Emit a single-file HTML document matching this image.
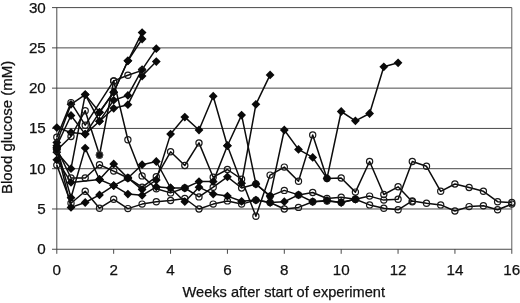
<!DOCTYPE html>
<html><head><meta charset="utf-8"><title>Blood glucose chart</title>
<style>html,body{margin:0;padding:0;background:#fff;overflow:hidden}svg{display:block;will-change:transform}</style>
</head><body>
<svg width="520" height="303" viewBox="0 0 520 303">
<rect width="520" height="303" fill="#fff"/>
<line x1="52.0" y1="249.25" x2="511.8" y2="249.25" stroke="#404040" stroke-width="0.95"/>
<line x1="52.0" y1="208.97" x2="511.8" y2="208.97" stroke="#404040" stroke-width="0.95"/>
<line x1="52.0" y1="168.70" x2="511.8" y2="168.70" stroke="#404040" stroke-width="0.95"/>
<line x1="52.0" y1="128.43" x2="511.8" y2="128.43" stroke="#404040" stroke-width="0.95"/>
<line x1="52.0" y1="88.15" x2="511.8" y2="88.15" stroke="#404040" stroke-width="0.95"/>
<line x1="52.0" y1="47.88" x2="511.8" y2="47.88" stroke="#404040" stroke-width="0.95"/>
<line x1="52.0" y1="7.60" x2="511.8" y2="7.60" stroke="#404040" stroke-width="0.95"/>
<line x1="56.8" y1="7.6" x2="56.8" y2="249.2" stroke="#404040" stroke-width="0.95"/>
<line x1="511.8" y1="7.6" x2="511.8" y2="249.2" stroke="#5a5a5a" stroke-width="1"/>
<line x1="56.80" y1="249.2" x2="56.80" y2="253.8" stroke="#404040" stroke-width="0.95"/>
<line x1="113.67" y1="249.2" x2="113.67" y2="253.8" stroke="#404040" stroke-width="0.95"/>
<line x1="170.55" y1="249.2" x2="170.55" y2="253.8" stroke="#404040" stroke-width="0.95"/>
<line x1="227.43" y1="249.2" x2="227.43" y2="253.8" stroke="#404040" stroke-width="0.95"/>
<line x1="284.30" y1="249.2" x2="284.30" y2="253.8" stroke="#404040" stroke-width="0.95"/>
<line x1="341.18" y1="249.2" x2="341.18" y2="253.8" stroke="#404040" stroke-width="0.95"/>
<line x1="398.05" y1="249.2" x2="398.05" y2="253.8" stroke="#404040" stroke-width="0.95"/>
<line x1="454.93" y1="249.2" x2="454.93" y2="253.8" stroke="#404040" stroke-width="0.95"/>
<line x1="511.80" y1="249.2" x2="511.80" y2="253.8" stroke="#404040" stroke-width="0.95"/>
<polyline points="56.8,152.2 71.0,168.7 85.2,94.6 99.5,112.3 113.7,92.2 127.9,60.8 142.1,32.6" fill="none" stroke="#0c0c0c" stroke-width="1.5" stroke-linejoin="round"/>
<polyline points="56.8,145.7 71.0,115.5 85.2,134.1 99.5,112.3 113.7,92.2 127.9,60.8 142.1,39.0" fill="none" stroke="#0c0c0c" stroke-width="1.5" stroke-linejoin="round"/>
<polyline points="56.8,142.5 71.0,104.3 85.2,94.6 99.5,121.2 113.7,100.2 127.9,95.4 142.1,69.6 156.3,48.7" fill="none" stroke="#0c0c0c" stroke-width="1.5" stroke-linejoin="round"/>
<polyline points="56.8,127.6 71.0,132.5 85.2,134.1 99.5,121.2 113.7,108.3 127.9,104.7 142.1,76.1 156.3,61.6" fill="none" stroke="#0c0c0c" stroke-width="1.5" stroke-linejoin="round"/>
<polyline points="56.8,150.2 71.0,136.5 85.2,110.7 99.5,155.0 113.7,80.9 127.9,75.3 142.1,70.4" fill="none" stroke="#0c0c0c" stroke-width="1.5" stroke-linejoin="round"/>
<polyline points="56.8,137.3 71.0,102.6 85.2,125.2 113.7,80.9 127.9,139.7 142.1,175.9 156.3,188.8 170.6,192.9 184.8,188.0 199.0,196.9 213.2,187.2 227.4,176.8 241.6,188.0 255.9,184.0 270.1,196.1 284.3,190.4 298.5,194.9 312.7,192.5 327.0,198.5 341.2,197.3 355.4,199.3 369.6,196.1 383.8,200.1 398.1,199.3 412.3,161.5 426.5,166.3 440.7,191.3 454.9,184.0 469.1,187.5 483.4,191.3 497.6,201.7 511.8,202.5" fill="none" stroke="#0c0c0c" stroke-width="1.5" stroke-linejoin="round"/>
<polyline points="56.8,165.1 71.0,203.3 85.2,191.3 99.5,208.2 113.7,199.3 127.9,208.6 142.1,204.1 156.3,201.7 170.6,200.5 184.8,198.5 199.0,209.0 213.2,204.1 227.4,200.9 241.6,204.1 255.9,200.1 270.1,202.5 284.3,209.0 298.5,207.4 312.7,201.7 327.0,200.9 341.2,202.5 355.4,199.3 369.6,204.9 383.8,208.2 398.1,209.8 412.3,200.9 426.5,203.3 440.7,204.9 454.9,211.0 469.1,206.6 483.4,205.8 497.6,209.8 511.8,204.1" fill="none" stroke="#0c0c0c" stroke-width="1.5" stroke-linejoin="round"/>
<polyline points="56.8,148.6 71.0,178.0 85.2,178.0 99.5,164.7 113.7,171.1 127.9,178.0 142.1,187.2 156.3,176.8 170.6,151.8 184.8,165.5 199.0,142.9 213.2,177.2 227.4,169.5 241.6,179.2 255.9,216.2 270.1,175.1 284.3,167.1 298.5,181.2 312.7,134.9 327.0,178.4 341.2,178.0 355.4,192.1 369.6,161.5 383.8,194.5 398.1,186.8 412.3,201.7" fill="none" stroke="#0c0c0c" stroke-width="1.5" stroke-linejoin="round"/>
<polyline points="56.8,149.0 71.0,207.4 85.2,202.5 99.5,194.9 113.7,185.6 127.9,194.1 142.1,195.3 156.3,186.8 170.6,188.0 184.8,201.7 199.0,187.2 213.2,194.1 227.4,196.1 241.6,201.3 255.9,200.1 270.1,202.5 284.3,201.7 298.5,194.9 312.7,201.7 327.0,200.5 341.2,202.5 355.4,199.3" fill="none" stroke="#0c0c0c" stroke-width="1.5" stroke-linejoin="round"/>
<polyline points="56.8,147.4 71.0,197.7 85.2,148.1 99.5,179.5 113.7,163.9 127.9,178.0 142.1,189.6 156.3,180.0 170.6,134.1 184.8,117.1 199.0,130.0 213.2,96.2 227.4,145.7 241.6,115.1 255.9,184.0 270.1,196.1 284.3,130.0 298.5,149.4 312.7,157.4 327.0,178.4 341.2,111.5 355.4,120.8 369.6,113.5 383.8,66.8 398.1,62.8" fill="none" stroke="#0c0c0c" stroke-width="1.5" stroke-linejoin="round"/>
<polyline points="56.8,159.8 71.0,182.4 99.5,179.5 113.7,185.6 127.9,178.0 142.1,164.7 156.3,161.5 170.6,188.0 184.8,188.0 199.0,181.6 213.2,181.6 227.4,145.7 241.6,183.2 255.9,104.3 270.1,74.9" fill="none" stroke="#0c0c0c" stroke-width="1.5" stroke-linejoin="round"/>
<path d="M56.8 147.8L61.2 152.2L56.8 156.6L52.4 152.2Z" fill="#0a0a0a"/>
<path d="M71.0 164.3L75.4 168.7L71.0 173.1L66.6 168.7Z" fill="#0a0a0a"/>
<path d="M85.2 90.2L89.6 94.6L85.2 99.0L80.8 94.6Z" fill="#0a0a0a"/>
<path d="M99.5 107.9L103.9 112.3L99.5 116.7L95.1 112.3Z" fill="#0a0a0a"/>
<path d="M113.7 87.8L118.1 92.2L113.7 96.6L109.3 92.2Z" fill="#0a0a0a"/>
<path d="M127.9 56.4L132.3 60.8L127.9 65.2L123.5 60.8Z" fill="#0a0a0a"/>
<path d="M142.1 28.2L146.5 32.6L142.1 37.0L137.7 32.6Z" fill="#0a0a0a"/>
<path d="M56.8 141.3L61.2 145.7L56.8 150.1L52.4 145.7Z" fill="#0a0a0a"/>
<path d="M71.0 111.1L75.4 115.5L71.0 119.9L66.6 115.5Z" fill="#0a0a0a"/>
<path d="M85.2 129.7L89.6 134.1L85.2 138.5L80.8 134.1Z" fill="#0a0a0a"/>
<path d="M99.5 107.9L103.9 112.3L99.5 116.7L95.1 112.3Z" fill="#0a0a0a"/>
<path d="M113.7 87.8L118.1 92.2L113.7 96.6L109.3 92.2Z" fill="#0a0a0a"/>
<path d="M127.9 56.4L132.3 60.8L127.9 65.2L123.5 60.8Z" fill="#0a0a0a"/>
<path d="M142.1 34.6L146.5 39.0L142.1 43.4L137.7 39.0Z" fill="#0a0a0a"/>
<path d="M56.8 138.1L61.2 142.5L56.8 146.9L52.4 142.5Z" fill="#0a0a0a"/>
<path d="M71.0 99.9L75.4 104.3L71.0 108.7L66.6 104.3Z" fill="#0a0a0a"/>
<path d="M85.2 90.2L89.6 94.6L85.2 99.0L80.8 94.6Z" fill="#0a0a0a"/>
<path d="M99.5 116.8L103.9 121.2L99.5 125.6L95.1 121.2Z" fill="#0a0a0a"/>
<path d="M113.7 95.8L118.1 100.2L113.7 104.6L109.3 100.2Z" fill="#0a0a0a"/>
<path d="M127.9 91.0L132.3 95.4L127.9 99.8L123.5 95.4Z" fill="#0a0a0a"/>
<path d="M142.1 65.2L146.5 69.6L142.1 74.0L137.7 69.6Z" fill="#0a0a0a"/>
<path d="M156.3 44.3L160.7 48.7L156.3 53.1L151.9 48.7Z" fill="#0a0a0a"/>
<path d="M56.8 123.2L61.2 127.6L56.8 132.0L52.4 127.6Z" fill="#0a0a0a"/>
<path d="M71.0 128.1L75.4 132.5L71.0 136.9L66.6 132.5Z" fill="#0a0a0a"/>
<path d="M85.2 129.7L89.6 134.1L85.2 138.5L80.8 134.1Z" fill="#0a0a0a"/>
<path d="M99.5 116.8L103.9 121.2L99.5 125.6L95.1 121.2Z" fill="#0a0a0a"/>
<path d="M113.7 103.9L118.1 108.3L113.7 112.7L109.3 108.3Z" fill="#0a0a0a"/>
<path d="M127.9 100.3L132.3 104.7L127.9 109.1L123.5 104.7Z" fill="#0a0a0a"/>
<path d="M142.1 71.7L146.5 76.1L142.1 80.5L137.7 76.1Z" fill="#0a0a0a"/>
<path d="M156.3 57.2L160.7 61.6L156.3 66.0L151.9 61.6Z" fill="#0a0a0a"/>
<circle cx="56.8" cy="150.2" r="3.1" fill="none" stroke="#1a1a1a" stroke-width="1.2"/>
<circle cx="71.0" cy="136.5" r="3.1" fill="none" stroke="#1a1a1a" stroke-width="1.2"/>
<circle cx="85.2" cy="110.7" r="3.1" fill="none" stroke="#1a1a1a" stroke-width="1.2"/>
<circle cx="99.5" cy="155.0" r="3.1" fill="none" stroke="#1a1a1a" stroke-width="1.2"/>
<circle cx="113.7" cy="80.9" r="3.1" fill="none" stroke="#1a1a1a" stroke-width="1.2"/>
<circle cx="127.9" cy="75.3" r="3.1" fill="none" stroke="#1a1a1a" stroke-width="1.2"/>
<circle cx="142.1" cy="70.4" r="3.1" fill="none" stroke="#1a1a1a" stroke-width="1.2"/>
<circle cx="56.8" cy="137.3" r="3.1" fill="none" stroke="#1a1a1a" stroke-width="1.2"/>
<circle cx="71.0" cy="102.6" r="3.1" fill="none" stroke="#1a1a1a" stroke-width="1.2"/>
<circle cx="85.2" cy="125.2" r="3.1" fill="none" stroke="#1a1a1a" stroke-width="1.2"/>
<circle cx="113.7" cy="80.9" r="3.1" fill="none" stroke="#1a1a1a" stroke-width="1.2"/>
<circle cx="127.9" cy="139.7" r="3.1" fill="none" stroke="#1a1a1a" stroke-width="1.2"/>
<circle cx="142.1" cy="175.9" r="3.1" fill="none" stroke="#1a1a1a" stroke-width="1.2"/>
<circle cx="156.3" cy="188.8" r="3.1" fill="none" stroke="#1a1a1a" stroke-width="1.2"/>
<circle cx="170.6" cy="192.9" r="3.1" fill="none" stroke="#1a1a1a" stroke-width="1.2"/>
<circle cx="184.8" cy="188.0" r="3.1" fill="none" stroke="#1a1a1a" stroke-width="1.2"/>
<circle cx="199.0" cy="196.9" r="3.1" fill="none" stroke="#1a1a1a" stroke-width="1.2"/>
<circle cx="213.2" cy="187.2" r="3.1" fill="none" stroke="#1a1a1a" stroke-width="1.2"/>
<path d="M227.4 172.4L231.8 176.8L227.4 181.2L223.0 176.8Z" fill="#0a0a0a"/>
<circle cx="241.6" cy="188.0" r="3.1" fill="none" stroke="#1a1a1a" stroke-width="1.2"/>
<circle cx="255.9" cy="184.0" r="3.1" fill="none" stroke="#1a1a1a" stroke-width="1.2"/>
<circle cx="270.1" cy="196.1" r="3.1" fill="none" stroke="#1a1a1a" stroke-width="1.2"/>
<circle cx="284.3" cy="190.4" r="3.1" fill="none" stroke="#1a1a1a" stroke-width="1.2"/>
<circle cx="298.5" cy="194.9" r="3.1" fill="none" stroke="#1a1a1a" stroke-width="1.2"/>
<circle cx="312.7" cy="192.5" r="3.1" fill="none" stroke="#1a1a1a" stroke-width="1.2"/>
<circle cx="327.0" cy="198.5" r="3.1" fill="none" stroke="#1a1a1a" stroke-width="1.2"/>
<circle cx="341.2" cy="197.3" r="3.1" fill="none" stroke="#1a1a1a" stroke-width="1.2"/>
<circle cx="355.4" cy="199.3" r="3.1" fill="none" stroke="#1a1a1a" stroke-width="1.2"/>
<circle cx="369.6" cy="196.1" r="3.1" fill="none" stroke="#1a1a1a" stroke-width="1.2"/>
<circle cx="383.8" cy="200.1" r="3.1" fill="none" stroke="#1a1a1a" stroke-width="1.2"/>
<circle cx="398.1" cy="199.3" r="3.1" fill="none" stroke="#1a1a1a" stroke-width="1.2"/>
<circle cx="412.3" cy="161.5" r="3.1" fill="none" stroke="#1a1a1a" stroke-width="1.2"/>
<circle cx="426.5" cy="166.3" r="3.1" fill="none" stroke="#1a1a1a" stroke-width="1.2"/>
<circle cx="440.7" cy="191.3" r="3.1" fill="none" stroke="#1a1a1a" stroke-width="1.2"/>
<circle cx="454.9" cy="184.0" r="3.1" fill="none" stroke="#1a1a1a" stroke-width="1.2"/>
<circle cx="469.1" cy="187.5" r="3.1" fill="none" stroke="#1a1a1a" stroke-width="1.2"/>
<circle cx="483.4" cy="191.3" r="3.1" fill="none" stroke="#1a1a1a" stroke-width="1.2"/>
<circle cx="497.6" cy="201.7" r="3.1" fill="none" stroke="#1a1a1a" stroke-width="1.2"/>
<circle cx="511.8" cy="202.5" r="3.1" fill="none" stroke="#1a1a1a" stroke-width="1.2"/>
<circle cx="56.8" cy="165.1" r="3.1" fill="none" stroke="#1a1a1a" stroke-width="1.2"/>
<circle cx="71.0" cy="203.3" r="3.1" fill="none" stroke="#1a1a1a" stroke-width="1.2"/>
<circle cx="85.2" cy="191.3" r="3.1" fill="none" stroke="#1a1a1a" stroke-width="1.2"/>
<circle cx="99.5" cy="208.2" r="3.1" fill="none" stroke="#1a1a1a" stroke-width="1.2"/>
<circle cx="113.7" cy="199.3" r="3.1" fill="none" stroke="#1a1a1a" stroke-width="1.2"/>
<circle cx="127.9" cy="208.6" r="3.1" fill="none" stroke="#1a1a1a" stroke-width="1.2"/>
<circle cx="142.1" cy="204.1" r="3.1" fill="none" stroke="#1a1a1a" stroke-width="1.2"/>
<circle cx="156.3" cy="201.7" r="3.1" fill="none" stroke="#1a1a1a" stroke-width="1.2"/>
<circle cx="170.6" cy="200.5" r="3.1" fill="none" stroke="#1a1a1a" stroke-width="1.2"/>
<circle cx="184.8" cy="198.5" r="3.1" fill="none" stroke="#1a1a1a" stroke-width="1.2"/>
<circle cx="199.0" cy="209.0" r="3.1" fill="none" stroke="#1a1a1a" stroke-width="1.2"/>
<circle cx="213.2" cy="204.1" r="3.1" fill="none" stroke="#1a1a1a" stroke-width="1.2"/>
<circle cx="227.4" cy="200.9" r="3.1" fill="none" stroke="#1a1a1a" stroke-width="1.2"/>
<circle cx="241.6" cy="204.1" r="3.1" fill="none" stroke="#1a1a1a" stroke-width="1.2"/>
<circle cx="255.9" cy="200.1" r="3.1" fill="none" stroke="#1a1a1a" stroke-width="1.2"/>
<circle cx="270.1" cy="202.5" r="3.1" fill="none" stroke="#1a1a1a" stroke-width="1.2"/>
<circle cx="284.3" cy="209.0" r="3.1" fill="none" stroke="#1a1a1a" stroke-width="1.2"/>
<circle cx="298.5" cy="207.4" r="3.1" fill="none" stroke="#1a1a1a" stroke-width="1.2"/>
<circle cx="312.7" cy="201.7" r="3.1" fill="none" stroke="#1a1a1a" stroke-width="1.2"/>
<circle cx="327.0" cy="200.9" r="3.1" fill="none" stroke="#1a1a1a" stroke-width="1.2"/>
<circle cx="341.2" cy="202.5" r="3.1" fill="none" stroke="#1a1a1a" stroke-width="1.2"/>
<circle cx="355.4" cy="199.3" r="3.1" fill="none" stroke="#1a1a1a" stroke-width="1.2"/>
<circle cx="369.6" cy="204.9" r="3.1" fill="none" stroke="#1a1a1a" stroke-width="1.2"/>
<circle cx="383.8" cy="208.2" r="3.1" fill="none" stroke="#1a1a1a" stroke-width="1.2"/>
<circle cx="398.1" cy="209.8" r="3.1" fill="none" stroke="#1a1a1a" stroke-width="1.2"/>
<circle cx="412.3" cy="200.9" r="3.1" fill="none" stroke="#1a1a1a" stroke-width="1.2"/>
<circle cx="426.5" cy="203.3" r="3.1" fill="none" stroke="#1a1a1a" stroke-width="1.2"/>
<circle cx="440.7" cy="204.9" r="3.1" fill="none" stroke="#1a1a1a" stroke-width="1.2"/>
<circle cx="454.9" cy="211.0" r="3.1" fill="none" stroke="#1a1a1a" stroke-width="1.2"/>
<circle cx="469.1" cy="206.6" r="3.1" fill="none" stroke="#1a1a1a" stroke-width="1.2"/>
<circle cx="483.4" cy="205.8" r="3.1" fill="none" stroke="#1a1a1a" stroke-width="1.2"/>
<circle cx="497.6" cy="209.8" r="3.1" fill="none" stroke="#1a1a1a" stroke-width="1.2"/>
<circle cx="511.8" cy="204.1" r="3.1" fill="none" stroke="#1a1a1a" stroke-width="1.2"/>
<circle cx="56.8" cy="148.6" r="3.1" fill="none" stroke="#1a1a1a" stroke-width="1.2"/>
<circle cx="71.0" cy="178.0" r="3.1" fill="none" stroke="#1a1a1a" stroke-width="1.2"/>
<circle cx="85.2" cy="178.0" r="3.1" fill="none" stroke="#1a1a1a" stroke-width="1.2"/>
<circle cx="99.5" cy="164.7" r="3.1" fill="none" stroke="#1a1a1a" stroke-width="1.2"/>
<circle cx="113.7" cy="171.1" r="3.1" fill="none" stroke="#1a1a1a" stroke-width="1.2"/>
<circle cx="127.9" cy="178.0" r="3.1" fill="none" stroke="#1a1a1a" stroke-width="1.2"/>
<circle cx="142.1" cy="187.2" r="3.1" fill="none" stroke="#1a1a1a" stroke-width="1.2"/>
<circle cx="156.3" cy="176.8" r="3.1" fill="none" stroke="#1a1a1a" stroke-width="1.2"/>
<circle cx="170.6" cy="151.8" r="3.1" fill="none" stroke="#1a1a1a" stroke-width="1.2"/>
<circle cx="184.8" cy="165.5" r="3.1" fill="none" stroke="#1a1a1a" stroke-width="1.2"/>
<circle cx="199.0" cy="142.9" r="3.1" fill="none" stroke="#1a1a1a" stroke-width="1.2"/>
<circle cx="213.2" cy="177.2" r="3.1" fill="none" stroke="#1a1a1a" stroke-width="1.2"/>
<circle cx="227.4" cy="169.5" r="3.1" fill="none" stroke="#1a1a1a" stroke-width="1.2"/>
<circle cx="241.6" cy="179.2" r="3.1" fill="none" stroke="#1a1a1a" stroke-width="1.2"/>
<circle cx="255.9" cy="216.2" r="3.1" fill="none" stroke="#1a1a1a" stroke-width="1.2"/>
<circle cx="270.1" cy="175.1" r="3.1" fill="none" stroke="#1a1a1a" stroke-width="1.2"/>
<circle cx="284.3" cy="167.1" r="3.1" fill="none" stroke="#1a1a1a" stroke-width="1.2"/>
<circle cx="298.5" cy="181.2" r="3.1" fill="none" stroke="#1a1a1a" stroke-width="1.2"/>
<circle cx="312.7" cy="134.9" r="3.1" fill="none" stroke="#1a1a1a" stroke-width="1.2"/>
<circle cx="327.0" cy="178.4" r="3.1" fill="none" stroke="#1a1a1a" stroke-width="1.2"/>
<circle cx="341.2" cy="178.0" r="3.1" fill="none" stroke="#1a1a1a" stroke-width="1.2"/>
<circle cx="355.4" cy="192.1" r="3.1" fill="none" stroke="#1a1a1a" stroke-width="1.2"/>
<circle cx="369.6" cy="161.5" r="3.1" fill="none" stroke="#1a1a1a" stroke-width="1.2"/>
<circle cx="383.8" cy="194.5" r="3.1" fill="none" stroke="#1a1a1a" stroke-width="1.2"/>
<circle cx="398.1" cy="186.8" r="3.1" fill="none" stroke="#1a1a1a" stroke-width="1.2"/>
<circle cx="412.3" cy="201.7" r="3.1" fill="none" stroke="#1a1a1a" stroke-width="1.2"/>
<path d="M56.8 144.6L61.2 149.0L56.8 153.4L52.4 149.0Z" fill="#0a0a0a"/>
<path d="M71.0 203.0L75.4 207.4L71.0 211.8L66.6 207.4Z" fill="#0a0a0a"/>
<path d="M85.2 198.1L89.6 202.5L85.2 206.9L80.8 202.5Z" fill="#0a0a0a"/>
<path d="M99.5 190.5L103.9 194.9L99.5 199.3L95.1 194.9Z" fill="#0a0a0a"/>
<path d="M113.7 181.2L118.1 185.6L113.7 190.0L109.3 185.6Z" fill="#0a0a0a"/>
<path d="M127.9 189.7L132.3 194.1L127.9 198.5L123.5 194.1Z" fill="#0a0a0a"/>
<path d="M142.1 190.9L146.5 195.3L142.1 199.7L137.7 195.3Z" fill="#0a0a0a"/>
<path d="M156.3 182.4L160.7 186.8L156.3 191.2L151.9 186.8Z" fill="#0a0a0a"/>
<path d="M170.6 183.6L175.0 188.0L170.6 192.4L166.2 188.0Z" fill="#0a0a0a"/>
<path d="M184.8 197.3L189.2 201.7L184.8 206.1L180.4 201.7Z" fill="#0a0a0a"/>
<path d="M199.0 182.8L203.4 187.2L199.0 191.6L194.6 187.2Z" fill="#0a0a0a"/>
<path d="M213.2 189.7L217.6 194.1L213.2 198.5L208.8 194.1Z" fill="#0a0a0a"/>
<path d="M227.4 191.7L231.8 196.1L227.4 200.5L223.0 196.1Z" fill="#0a0a0a"/>
<path d="M241.6 196.9L246.0 201.3L241.6 205.7L237.2 201.3Z" fill="#0a0a0a"/>
<path d="M255.9 195.7L260.3 200.1L255.9 204.5L251.5 200.1Z" fill="#0a0a0a"/>
<path d="M270.1 198.1L274.5 202.5L270.1 206.9L265.7 202.5Z" fill="#0a0a0a"/>
<path d="M284.3 197.3L288.7 201.7L284.3 206.1L279.9 201.7Z" fill="#0a0a0a"/>
<path d="M298.5 190.5L302.9 194.9L298.5 199.3L294.1 194.9Z" fill="#0a0a0a"/>
<path d="M312.7 197.3L317.1 201.7L312.7 206.1L308.3 201.7Z" fill="#0a0a0a"/>
<path d="M327.0 196.1L331.4 200.5L327.0 204.9L322.6 200.5Z" fill="#0a0a0a"/>
<path d="M341.2 198.1L345.6 202.5L341.2 206.9L336.8 202.5Z" fill="#0a0a0a"/>
<path d="M355.4 194.9L359.8 199.3L355.4 203.7L351.0 199.3Z" fill="#0a0a0a"/>
<path d="M56.8 143.0L61.2 147.4L56.8 151.8L52.4 147.4Z" fill="#0a0a0a"/>
<path d="M71.0 193.3L75.4 197.7L71.0 202.1L66.6 197.7Z" fill="#0a0a0a"/>
<path d="M85.2 143.7L89.6 148.1L85.2 152.5L80.8 148.1Z" fill="#0a0a0a"/>
<path d="M99.5 175.1L103.9 179.5L99.5 183.9L95.1 179.5Z" fill="#0a0a0a"/>
<path d="M113.7 159.5L118.1 163.9L113.7 168.3L109.3 163.9Z" fill="#0a0a0a"/>
<path d="M127.9 173.6L132.3 178.0L127.9 182.4L123.5 178.0Z" fill="#0a0a0a"/>
<path d="M142.1 185.2L146.5 189.6L142.1 194.0L137.7 189.6Z" fill="#0a0a0a"/>
<path d="M156.3 175.6L160.7 180.0L156.3 184.4L151.9 180.0Z" fill="#0a0a0a"/>
<path d="M170.6 129.7L175.0 134.1L170.6 138.5L166.2 134.1Z" fill="#0a0a0a"/>
<path d="M184.8 112.7L189.2 117.1L184.8 121.5L180.4 117.1Z" fill="#0a0a0a"/>
<path d="M199.0 125.6L203.4 130.0L199.0 134.4L194.6 130.0Z" fill="#0a0a0a"/>
<path d="M213.2 91.8L217.6 96.2L213.2 100.6L208.8 96.2Z" fill="#0a0a0a"/>
<path d="M227.4 141.3L231.8 145.7L227.4 150.1L223.0 145.7Z" fill="#0a0a0a"/>
<path d="M241.6 110.7L246.0 115.1L241.6 119.5L237.2 115.1Z" fill="#0a0a0a"/>
<path d="M255.9 179.6L260.3 184.0L255.9 188.4L251.5 184.0Z" fill="#0a0a0a"/>
<path d="M270.1 191.7L274.5 196.1L270.1 200.5L265.7 196.1Z" fill="#0a0a0a"/>
<path d="M284.3 125.6L288.7 130.0L284.3 134.4L279.9 130.0Z" fill="#0a0a0a"/>
<path d="M298.5 145.0L302.9 149.4L298.5 153.8L294.1 149.4Z" fill="#0a0a0a"/>
<path d="M312.7 153.0L317.1 157.4L312.7 161.8L308.3 157.4Z" fill="#0a0a0a"/>
<path d="M327.0 174.0L331.4 178.4L327.0 182.8L322.6 178.4Z" fill="#0a0a0a"/>
<path d="M341.2 107.1L345.6 111.5L341.2 115.9L336.8 111.5Z" fill="#0a0a0a"/>
<path d="M355.4 116.4L359.8 120.8L355.4 125.2L351.0 120.8Z" fill="#0a0a0a"/>
<path d="M369.6 109.1L374.0 113.5L369.6 117.9L365.2 113.5Z" fill="#0a0a0a"/>
<path d="M383.8 62.4L388.2 66.8L383.8 71.2L379.4 66.8Z" fill="#0a0a0a"/>
<path d="M398.1 58.4L402.4 62.8L398.1 67.2L393.7 62.8Z" fill="#0a0a0a"/>
<path d="M56.8 155.4L61.2 159.8L56.8 164.2L52.4 159.8Z" fill="#0a0a0a"/>
<path d="M71.0 178.0L75.4 182.4L71.0 186.8L66.6 182.4Z" fill="#0a0a0a"/>
<path d="M99.5 175.1L103.9 179.5L99.5 183.9L95.1 179.5Z" fill="#0a0a0a"/>
<path d="M113.7 181.2L118.1 185.6L113.7 190.0L109.3 185.6Z" fill="#0a0a0a"/>
<path d="M127.9 173.6L132.3 178.0L127.9 182.4L123.5 178.0Z" fill="#0a0a0a"/>
<path d="M142.1 160.3L146.5 164.7L142.1 169.1L137.7 164.7Z" fill="#0a0a0a"/>
<path d="M156.3 157.1L160.7 161.5L156.3 165.9L151.9 161.5Z" fill="#0a0a0a"/>
<path d="M170.6 183.6L175.0 188.0L170.6 192.4L166.2 188.0Z" fill="#0a0a0a"/>
<path d="M184.8 183.6L189.2 188.0L184.8 192.4L180.4 188.0Z" fill="#0a0a0a"/>
<path d="M199.0 177.2L203.4 181.6L199.0 186.0L194.6 181.6Z" fill="#0a0a0a"/>
<path d="M213.2 177.2L217.6 181.6L213.2 186.0L208.8 181.6Z" fill="#0a0a0a"/>
<path d="M227.4 141.3L231.8 145.7L227.4 150.1L223.0 145.7Z" fill="#0a0a0a"/>
<path d="M241.6 178.8L246.0 183.2L241.6 187.6L237.2 183.2Z" fill="#0a0a0a"/>
<path d="M255.9 99.9L260.3 104.3L255.9 108.7L251.5 104.3Z" fill="#0a0a0a"/>
<path d="M270.1 70.5L274.5 74.9L270.1 79.3L265.7 74.9Z" fill="#0a0a0a"/>
<circle cx="99.5" cy="155.0" r="3.5" fill="#111" stroke="#555" stroke-width="0.8"/>
<text x="45.8" y="254.2" font-size="15.2" text-anchor="end" fill="#111" font-family="'Liberation Sans', Arial, sans-serif" stroke="#111" stroke-width="0.25">0</text>
<text x="45.8" y="213.9" font-size="15.2" text-anchor="end" fill="#111" font-family="'Liberation Sans', Arial, sans-serif" stroke="#111" stroke-width="0.25">5</text>
<text x="45.8" y="173.6" font-size="15.2" text-anchor="end" fill="#111" font-family="'Liberation Sans', Arial, sans-serif" stroke="#111" stroke-width="0.25">10</text>
<text x="45.8" y="133.3" font-size="15.2" text-anchor="end" fill="#111" font-family="'Liberation Sans', Arial, sans-serif" stroke="#111" stroke-width="0.25">15</text>
<text x="45.8" y="93.1" font-size="15.2" text-anchor="end" fill="#111" font-family="'Liberation Sans', Arial, sans-serif" stroke="#111" stroke-width="0.25">20</text>
<text x="45.8" y="52.8" font-size="15.2" text-anchor="end" fill="#111" font-family="'Liberation Sans', Arial, sans-serif" stroke="#111" stroke-width="0.25">25</text>
<text x="45.8" y="12.5" font-size="15.2" text-anchor="end" fill="#111" font-family="'Liberation Sans', Arial, sans-serif" stroke="#111" stroke-width="0.25">30</text>
<text x="56.8" y="274.7" font-size="15.2" text-anchor="middle" fill="#111" font-family="'Liberation Sans', Arial, sans-serif" stroke="#111" stroke-width="0.25">0</text>
<text x="113.7" y="274.7" font-size="15.2" text-anchor="middle" fill="#111" font-family="'Liberation Sans', Arial, sans-serif" stroke="#111" stroke-width="0.25">2</text>
<text x="170.6" y="274.7" font-size="15.2" text-anchor="middle" fill="#111" font-family="'Liberation Sans', Arial, sans-serif" stroke="#111" stroke-width="0.25">4</text>
<text x="227.4" y="274.7" font-size="15.2" text-anchor="middle" fill="#111" font-family="'Liberation Sans', Arial, sans-serif" stroke="#111" stroke-width="0.25">6</text>
<text x="284.3" y="274.7" font-size="15.2" text-anchor="middle" fill="#111" font-family="'Liberation Sans', Arial, sans-serif" stroke="#111" stroke-width="0.25">8</text>
<text x="341.2" y="274.7" font-size="15.2" text-anchor="middle" fill="#111" font-family="'Liberation Sans', Arial, sans-serif" stroke="#111" stroke-width="0.25">10</text>
<text x="398.1" y="274.7" font-size="15.2" text-anchor="middle" fill="#111" font-family="'Liberation Sans', Arial, sans-serif" stroke="#111" stroke-width="0.25">12</text>
<text x="454.9" y="274.7" font-size="15.2" text-anchor="middle" fill="#111" font-family="'Liberation Sans', Arial, sans-serif" stroke="#111" stroke-width="0.25">14</text>
<text x="511.8" y="274.7" font-size="15.2" text-anchor="middle" fill="#111" font-family="'Liberation Sans', Arial, sans-serif" stroke="#111" stroke-width="0.25">16</text>
<text x="283.8" y="297" font-size="14.6" text-anchor="middle" fill="#111" font-family="'Liberation Sans', Arial, sans-serif" stroke="#111" stroke-width="0.25">Weeks after start of experiment</text>
<text transform="translate(12.0,127.4) rotate(-90)" font-size="15" text-anchor="middle" fill="#111" font-family="'Liberation Sans', Arial, sans-serif" stroke="#111" stroke-width="0.25">Blood glucose (mM)</text>
</svg>
</body></html>
